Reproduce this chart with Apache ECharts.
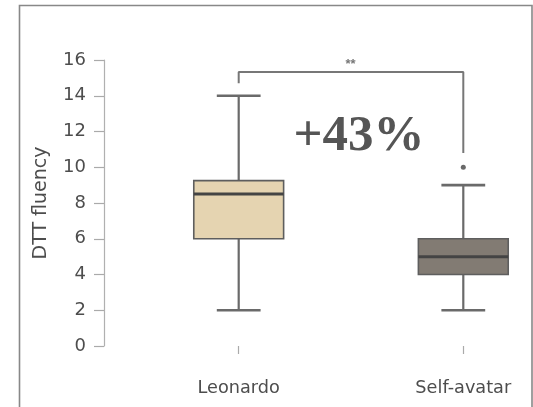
<!DOCTYPE html>
<html>
<head>
<meta charset="utf-8">
<script src="https://cdn.jsdelivr.net/npm/echarts@6/dist/echarts.min.js"></script>
<style>
html,body{margin:0;padding:0;background:#fff;}
#chart{width:533px;height:407px;}
</style>
</head>
<body>
<div id="chart"></div>
<script>
// ---- data ----
const categories = ['Leonardo', 'Self-avatar'];
const mins    = [2, 2];
const q1s     = [6, 4];
const medians = [8.5, 5];
const q3s     = [9.25, 6];
const maxs    = [14, 9];
const outliers = [[1, 10]];
const yTicks = [0, 2, 4, 6, 8, 10, 12, 14, 16];
const boxFills = ['#e5d4b1', '#827b73'];
// significance bracket: [category index, value]
const bracket = [[0, 14.7], [0, 15.33], [1, 15.33], [1, 10.8]];
const sigLabel = '**';
const effectLabel = '+43%';

const boxData = categories.map((c, i) => [i, mins[i], q1s[i], medians[i], q3s[i], maxs[i]]);

const chart = echarts.init(document.getElementById('chart'), null, {renderer: 'canvas'});

function renderBox(params, api) {
  const x = api.value(0);
  const pMin = api.coord([x, api.value(1)]);
  const pQ1 = api.coord([x, api.value(2)]);
  const pMed = api.coord([x, api.value(3)]);
  const pQ3 = api.coord([x, api.value(4)]);
  const pMax = api.coord([x, api.value(5)]);
  const band = api.size([1, 0])[0];
  const bw = band * 0.4;
  const cw = band * 0.195;
  const cx = pMed[0];
  const lineCol = '#6a6a6a';
  return {
    type: 'group',
    children: [
      {type: 'line', shape: {x1: cx, y1: pQ3[1], x2: cx, y2: pMax[1]}, style: {stroke: lineCol, lineWidth: 2.2}},
      {type: 'line', shape: {x1: cx, y1: pQ1[1], x2: cx, y2: pMin[1]}, style: {stroke: lineCol, lineWidth: 2.2}},
      {type: 'line', shape: {x1: cx - cw / 2, y1: pMax[1], x2: cx + cw / 2, y2: pMax[1]}, style: {stroke: lineCol, lineWidth: 2.6}},
      {type: 'line', shape: {x1: cx - cw / 2, y1: pMin[1], x2: cx + cw / 2, y2: pMin[1]}, style: {stroke: lineCol, lineWidth: 2.6}},
      {type: 'rect', shape: {x: cx - bw / 2, y: pQ3[1], width: bw, height: pQ1[1] - pQ3[1]},
        style: {fill: boxFills[params.dataIndex], stroke: '#5e5e5e', lineWidth: 1.6}},
      {type: 'line', shape: {x1: cx - bw / 2, y1: pMed[1], x2: cx + bw / 2, y2: pMed[1]}, style: {stroke: '#444', lineWidth: 3}}
    ]
  };
}

const textFont = 'DejaVu Sans';
const textCol = '#4d4d4d';
const option = {
  animation: false,
  backgroundColor: '#fff',
  grid: {left: 238.7, right: 69.7, top: 60, bottom: 61},
  xAxis: {
    type: 'category',
    data: categories,
    boundaryGap: false,
    offset: 16,
    axisLine: {show: false},
    axisTick: {show: true, length: 8, lineStyle: {color: '#aaa', width: 1.2}},
    axisLabel: {margin: 17, fontSize: 17.7, color: textCol, fontFamily: textFont},
    splitLine: {show: false}
  },
  yAxis: {
    type: 'value',
    min: yTicks[0],
    max: yTicks[yTicks.length - 1],
    interval: 2,
    offset: 134.7,
    name: 'DTT fluency',
    nameLocation: 'middle',
    nameGap: 53,
    nameTextStyle: {fontSize: 19, color: textCol, fontFamily: textFont},
    axisLine: {show: true, lineStyle: {color: '#b0b0b0', width: 1.2}},
    axisTick: {show: true, length: 10, lineStyle: {color: '#aaa', width: 1.2}},
    axisLabel: {margin: 18, fontSize: 18, color: textCol, fontFamily: textFont},
    splitLine: {show: false}
  },
  graphic: [
    {type: 'rect', shape: {x: 19.5, y: 5.5, width: 512.5, height: 430}, style: {fill: 'none', stroke: '#888', lineWidth: 1.6}, silent: true},
    {type: 'text', x: 350.5, y: 64, style: {text: sigLabel, font: 'bold 13px "Liberation Sans"', fill: '#777', textAlign: 'center', textVerticalAlign: 'middle'}},
    {type: 'text', x: 359, y: 137, style: {text: effectLabel, font: 'bold 51px "Liberation Serif"', fill: '#555', textAlign: 'center', textVerticalAlign: 'middle'}}
  ],
  series: [
    {type: 'custom', renderItem: renderBox, data: boxData, encode: {x: 0, y: [1, 2, 3, 4, 5]}, z: 3, clip: false},
    {type: 'line', data: bracket, symbol: 'none', lineStyle: {color: '#777', width: 2}, z: 2, silent: true},
    {type: 'scatter', data: outliers, symbol: 'circle', symbolSize: 5, itemStyle: {color: '#444'}, z: 4}
  ]
};
chart.setOption(option);
</script>
</body>
</html>
